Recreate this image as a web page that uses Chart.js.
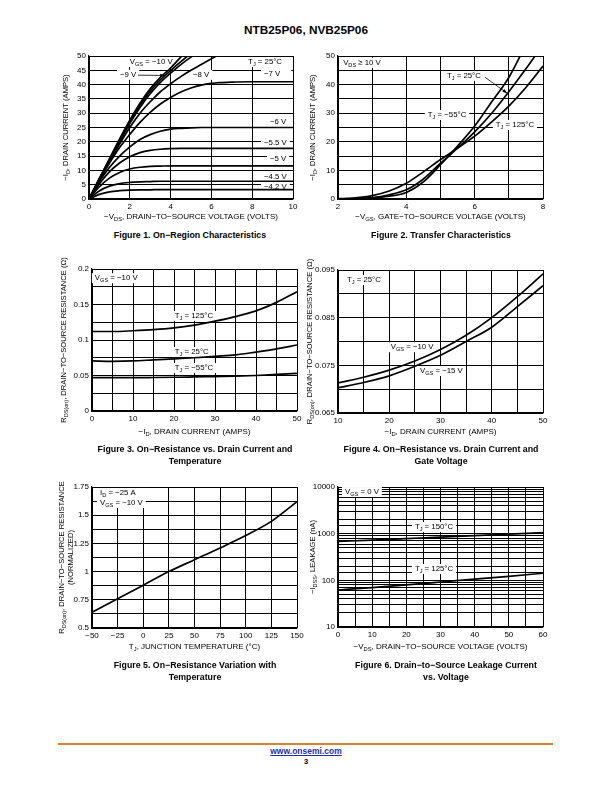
<!DOCTYPE html>
<html>
<head>
<meta charset="utf-8">
<script src="https://cdn.jsdelivr.net/npm/chart.js@4.4.1/dist/chart.umd.min.js"></script>
<style>
  body { margin: 0; background: #fff; }
  #page { position: relative; width: 612px; height: 792px; font-family: "Liberation Sans", Arial, sans-serif; color: #000; }
  canvas { position: absolute; }
  .cap { position: absolute; width: 300px; text-align: center; font-weight: bold; font-size: 8.8px; line-height: 11.5px; }
</style>
</head>
<body>
<div id="page">
  <div class="cap" style="left:156px;top:23px;font-size:11.8px;line-height:14px">NTB25P06, NVB25P06</div>

  <canvas id="fig1"></canvas>
  <canvas id="fig2"></canvas>
  <canvas id="fig3"></canvas>
  <canvas id="fig4"></canvas>
  <canvas id="fig5"></canvas>
  <canvas id="fig6"></canvas>

  <div class="cap" style="left:40px;top:230px">Figure 1. On&#8722;Region Characteristics</div>
  <div class="cap" style="left:291px;top:230px">Figure 2. Transfer Characteristics</div>
  <div class="cap" style="left:45px;top:444px">Figure 3. On&#8722;Resistance vs. Drain Current and<br>Temperature</div>
  <div class="cap" style="left:291px;top:444px">Figure 4. On&#8722;Resistance vs. Drain Current and<br>Gate Voltage</div>
  <div class="cap" style="left:45px;top:660px">Figure 5. On&#8722;Resistance Variation with<br>Temperature</div>
  <div class="cap" style="left:296px;top:660px">Figure 6. Drain&#8722;to&#8722;Source Leakage Current<br>vs. Voltage</div>

  <div style="position:absolute;left:58px;top:743px;width:495px;height:2px;background:#d9822b"></div>
  <div class="cap" style="left:156px;top:746px;font-size:8.5px;color:#1f2fa8;text-decoration:underline">www.onsemi.com</div>
  <div class="cap" style="left:156px;top:756px;font-size:7.5px">3</div>
</div>

<script>
// ---- Figure 1: on-region, -ID vs -VDS for each VGS
const vdsSteps = [0, 0.5, 1, 1.5, 2, 2.5, 3, 3.5, 4, 4.5, 5, 5.5, 6, 6.5, 7, 8, 9, 10];
const vgsCurves = ['−10 V', '−9 V', '−8.5 V', '−8 V', '−7 V', '−6 V', '−5.5 V', '−5 V', '−4.5 V', '−4.2 V'];
const idOnRegion = [
  [0, 7, 14, 21, 27.6, 33.5, 38.5, 42.5, 45.8, 49.6, 53],
  [0, 7, 13.8, 20.5, 27, 32.8, 37.7, 41.7, 44.9, 48, 51],
  [0, 6.9, 13.5, 20, 26.4, 32, 36.8, 40.8, 44, 47, 49.6, 52],
  [0, 6.7, 13, 19.2, 25, 30, 34, 37.5, 40.3, 42.8, 45, 47, 49, 51],
  [0, 6.5, 12.5, 18, 22.6, 26.8, 30.3, 33.2, 35.5, 37.4, 38.8, 39.8, 40.4, 40.7, 40.9, 41, 41, 41],
  [0, 6, 11, 15, 18.2, 20.8, 22.5, 23.7, 24.4, 24.7, 24.9, 25, 25, 25, 25, 25, 25, 25],
  [0, 5.2, 9.5, 12.6, 14.8, 16.2, 17, 17.4, 17.6, 17.7, 17.7, 17.7, 17.7, 17.7, 17.7, 17.7, 17.7, 17.7],
  [0, 4.2, 7.3, 9.3, 10.5, 11.1, 11.4, 11.5, 11.6, 11.6, 11.6, 11.6, 11.6, 11.6, 11.6, 11.6, 11.6, 11.6],
  [0, 2.8, 4.5, 5.4, 5.8, 6, 6.1, 6.2, 6.2, 6.2, 6.2, 6.2, 6.2, 6.2, 6.2, 6.2, 6.2, 6.2],
  [0, 1.6, 2.5, 2.9, 3.1, 3.2, 3.2, 3.3, 3.3, 3.3, 3.3, 3.3, 3.3, 3.3, 3.3, 3.3, 3.3, 3.3]
];

// ---- Figure 2: transfer, -ID vs -VGS
const vgsSteps = [2, 2.5, 3, 3.5, 4, 4.5, 5, 5.5, 6, 6.5, 7, 7.5, 8];
const tjTransfer = ['−55°C', '25°C', '125°C'];
const idTransfer = [
  [0, 0.05, 0.3, 1, 2.3, 6, 12, 18.5, 25.5, 34, 42.5, 54],
  [0.05, 0.15, 0.5, 1.5, 3.2, 7, 12.5, 17.8, 23.5, 30, 37.5, 45.5, 54],
  [0.1, 0.4, 1.2, 2.8, 5.5, 9.5, 13.8, 17.8, 22, 27, 32.5, 39, 46.5]
];

// ---- Figure 3: RDS(on) vs -ID and temperature
const idSteps3 = [0, 5, 10, 15, 20, 25, 30, 35, 40, 45, 50];
const tjRds = ['125°C', '25°C', '−55°C'];
const rdsVsId = [
  [0.112, 0.112, 0.113, 0.1145, 0.117, 0.121, 0.1265, 0.133, 0.141, 0.153, 0.168],
  [0.0705, 0.070, 0.0705, 0.072, 0.0735, 0.075, 0.077, 0.079, 0.083, 0.0875, 0.093],
  [0.047, 0.047, 0.047, 0.0472, 0.0475, 0.048, 0.0485, 0.049, 0.050, 0.0515, 0.053]
];

// ---- Figure 4: RDS(on) vs -ID and gate voltage
const idSteps4 = [10, 15, 20, 25, 30, 35, 40, 45, 50];
const vgsRds = ['−10 V', '−15 V'];
const rdsVsVgs = [
  [0.0713, 0.0725, 0.074, 0.0759, 0.0783, 0.0813, 0.085, 0.0894, 0.0942],
  [0.0703, 0.0714, 0.0728, 0.0748, 0.0771, 0.080, 0.083, 0.0873, 0.0917]
];

// ---- Figure 5: normalized RDS(on) vs TJ
const tjSteps = [-50, -25, 0, 25, 50, 75, 100, 125, 150];
const rdsNorm = [0.64, 0.76, 0.88, 1.0, 1.105, 1.21, 1.32, 1.445, 1.62];

// ---- Figure 6: -IDSS leakage vs -VDS
const vdsSteps6 = [0, 10, 20, 30, 40, 50, 60];
const tjLeak = ['150°C', '125°C'];
const idssLeak = [
  [680, 730, 785, 845, 905, 975, 1050],
  [62, 70, 80, 92, 106, 122, 142]
];

const FONT = '"Liberation Sans", Arial, sans-serif';
const FS = 8;     // ticks and x titles
const YS = 7.6;   // y titles
const NS = 7.8;   // in-plot labels

// text with _{subscript} parts
function parseRich(s) {
  const out = [];
  const re = /_\{([^}]*)\}/g;
  let last = 0, m;
  while ((m = re.exec(s))) {
    if (m.index > last) out.push({ t: s.slice(last, m.index), sub: false });
    out.push({ t: m[1], sub: true });
    last = re.lastIndex;
  }
  if (last < s.length) out.push({ t: s.slice(last), sub: false });
  return out;
}
function richWidth(ctx, s, size) {
  let w = 0;
  parseRich(s).forEach(p => {
    ctx.font = (p.sub ? size * 0.72 : size) + 'px ' + FONT;
    w += ctx.measureText(p.t).width;
  });
  return w;
}
function drawRich(ctx, s, x, y, size, align) {
  const w = richWidth(ctx, s, size);
  let cx = align === 'center' ? x - w / 2 : x;
  ctx.textAlign = 'left';
  ctx.textBaseline = 'middle';
  parseRich(s).forEach(p => {
    ctx.font = (p.sub ? size * 0.72 : size) + 'px ' + FONT;
    ctx.fillText(p.t, cx, p.sub ? y + size * 0.3 : y);
    cx += ctx.measureText(p.t).width;
  });
}

// labels in white boxes, arrows, axis titles
const sheetPlugin = {
  id: 'sheet',
  beforeDatasetsDraw(chart, args, opts) {
    const { ctx, scales } = chart;
    ctx.save();
    (opts.notes || []).forEach(n => {
      const lines = [].concat(n.text);
      const px = scales.x.getPixelForValue(n.x);
      const py = scales.y.getPixelForValue(n.y);
      const lh = 10;
      let w = 0;
      lines.forEach(l => { w = Math.max(w, richWidth(ctx, l, NS)); });
      ctx.fillStyle = '#fff';
      ctx.fillRect(px - 3, py - 5, w + (n.pad || 6), lh * lines.length);
      ctx.fillStyle = '#000';
      lines.forEach((l, i) => drawRich(ctx, l, px, py + i * lh, NS, 'left'));
    });
    ctx.restore();
  },
  afterDatasetsDraw(chart, args, opts) {
    const { ctx, scales } = chart;
    ctx.save();
    ctx.strokeStyle = '#000';
    ctx.fillStyle = '#000';
    ctx.lineWidth = 0.8;
    (opts.arrows || []).forEach(a => {
      const x1 = scales.x.getPixelForValue(a.from[0]), y1 = scales.y.getPixelForValue(a.from[1]);
      const x2 = scales.x.getPixelForValue(a.to[0]), y2 = scales.y.getPixelForValue(a.to[1]);
      const ang = Math.atan2(y2 - y1, x2 - x1);
      ctx.beginPath();
      ctx.moveTo(x1, y1);
      ctx.lineTo(x2, y2);
      ctx.stroke();
      ctx.beginPath();
      ctx.moveTo(x2, y2);
      ctx.lineTo(x2 - 5 * Math.cos(ang - 0.35), y2 - 5 * Math.sin(ang - 0.35));
      ctx.lineTo(x2 - 5 * Math.cos(ang + 0.35), y2 - 5 * Math.sin(ang + 0.35));
      ctx.closePath();
      ctx.fill();
    });
    ctx.restore();
  },
  afterDraw(chart, args, opts) {
    const { ctx, chartArea: a } = chart;
    ctx.save();
    ctx.fillStyle = '#000';
    if (opts.xTitle) drawRich(ctx, opts.xTitle, (a.left + a.right) / 2, a.bottom + opts.xGap, FS, 'center');
    [].concat(opts.yTitle || []).forEach((t, i) => {
      ctx.save();
      ctx.translate(a.left - opts.yGap + i * 8.5, (a.top + a.bottom) / 2);
      ctx.rotate(-Math.PI / 2);
      drawRich(ctx, t, 0, 0, YS, 'center');
      ctx.restore();
    });
    ctx.restore();
  }
};

const isMult = (v, m) => Math.abs(v / m - Math.round(v / m)) < 1e-6;
const fmt = v => String(+v.toFixed(4)).replace('-', '−');

function axis(type, min, max, step, show) {
  return {
    type, min, max,
    ticks: {
      stepSize: step, autoSkip: false, color: '#000', padding: 3,
      font: { family: FONT, size: FS },
      callback: v => (show(v) ? fmt(v) : '')
    },
    grid: { color: '#000', lineWidth: 1, drawTicks: false },
    border: { color: '#000', width: 1.2 }
  };
}

function series(xs, ys) {
  return xs.map((x, i) => ({ x, y: ys[i] })).filter(p => p.y != null);
}
function line(label, data) {
  return {
    label, data, borderColor: '#000', borderWidth: 1.7, pointRadius: 0,
    cubicInterpolationMode: 'monotone', fill: false
  };
}

// box = canvas [left, top, width, height], plot = [left, top, right, bottom], page pixels
function makeChart(id, box, plot, scales, datasets, sheet) {
  const cv = document.getElementById(id);
  cv.style.left = box[0] + 'px';
  cv.style.top = box[1] + 'px';
  cv.width = box[2];
  cv.height = box[3];
  scales.x.afterFit = s => { s.height = box[1] + box[3] - plot[3]; };
  scales.y.afterFit = s => { s.width = plot[0] - box[0]; };
  return new Chart(cv, {
    type: 'line',
    data: { datasets },
    options: {
      responsive: false,
      animation: false,
      layout: { padding: { left: 0, bottom: 0, top: plot[1] - box[1], right: box[0] + box[2] - plot[2] } },
      plugins: { legend: { display: false }, tooltip: { enabled: false }, sheet },
      scales
    },
    plugins: [sheetPlugin]
  });
}

// Figure 1
makeChart('fig1', [50, 40, 258, 189], [89, 56, 293, 199],
  { x: axis('linear', 0, 10, 2, () => true), y: axis('linear', 0, 50, 5, () => true) },
  vgsCurves.map((name, i) => line(name, series(vdsSteps, idOnRegion[i]))),
  {
    xTitle: '−V_{DS}, DRAIN−TO−SOURCE VOLTAGE (VOLTS)', xGap: 18,
    yTitle: '−I_{D}, DRAIN CURRENT (AMPS)', yGap: 23,
    notes: [
      { x: 2.0, y: 47.9, text: 'V_{GS} = −10 V' },
      { x: 7.8, y: 47.9, text: 'T_{J} = 25°C' },
      { x: 1.52, y: 43.4, text: '−9 V' },
      { x: 5.1, y: 43.4, text: '−8 V' },
      { x: 8.58, y: 43.7, text: '−7 V', pad: 14 },
      { x: 8.87, y: 26.9, text: '−6 V' },
      { x: 8.58, y: 19.6, text: '−5.5 V' },
      { x: 8.87, y: 14, text: '−5 V' },
      { x: 8.58, y: 7.7, text: '−4.5 V' },
      { x: 8.58, y: 4.2, text: '−4.2 V' }
    ],
    arrows: [{ from: [2.4, 43.3], to: [3.72, 43.2] }]
  });

// Figure 2
makeChart('fig2', [300, 40, 258, 189], [338, 56, 543, 199],
  { x: axis('linear', 2, 8, 1, v => isMult(v, 2)), y: axis('linear', 0, 50, 5, v => isMult(v, 10)) },
  tjTransfer.map((name, i) => line(name, series(vgsSteps, idTransfer[i]))),
  {
    xTitle: '−V_{GS}, GATE−TO−SOURCE VOLTAGE (VOLTS)', xGap: 18,
    yTitle: '−I_{D}, DRAIN CURRENT (AMPS)', yGap: 25,
    notes: [
      { x: 2.15, y: 47.6, text: 'V_{DS} ≥ 10 V' },
      { x: 5.19, y: 43, text: 'T_{J} = 25°C' },
      { x: 4.63, y: 29.4, text: 'T_{J} = −55°C' },
      { x: 6.62, y: 25.9, text: 'T_{J} = 125°C' }
    ],
    arrows: [{ from: [6.3, 42.6], to: [6.95, 37] }]
  });

// Figure 3
makeChart('fig3', [50, 244, 258, 199], [92, 269, 297, 411],
  { x: axis('linear', 0, 50, 5, v => isMult(v, 10)), y: axis('linear', 0, 0.2, 0.025, v => isMult(v, 0.05)) },
  tjRds.map((name, i) => line(name, series(idSteps3, rdsVsId[i]))),
  {
    xTitle: '−I_{D}, DRAIN CURRENT (AMPS)', xGap: 21,
    yTitle: 'R_{DS(on)}, DRAIN−TO−SOURCE RESISTANCE (Ω)', yGap: 28,
    notes: [
      { x: 0.7, y: 0.187, text: 'V_{GS} = −10 V' },
      { x: 20.2, y: 0.134, text: 'T_{J} = 125°C' },
      { x: 20.2, y: 0.083, text: 'T_{J} = 25°C' },
      { x: 20.2, y: 0.0606, text: 'T_{J} = −55°C' }
    ]
  });

// Figure 4
makeChart('fig4', [300, 244, 258, 199], [338, 270, 543, 413],
  { x: axis('linear', 10, 50, 5, v => isMult(v, 10)), y: axis('linear', 0.065, 0.095, 0.005, v => isMult(v - 0.065, 0.01)) },
  vgsRds.map((name, i) => line(name, series(idSteps4, rdsVsVgs[i]))),
  {
    xTitle: '−I_{D}, DRAIN CURRENT (AMPS)', xGap: 19,
    yTitle: 'R_{DS(on)}, DRAIN−TO−SOURCE RESISTANCE (Ω)', yGap: 28,
    notes: [
      { x: 11.75, y: 0.0929, text: 'T_{J} = 25°C' },
      { x: 20.3, y: 0.0788, text: 'V_{GS} = −10 V' },
      { x: 26, y: 0.0738, text: 'V_{GS} = −15 V' }
    ]
  });

// Figure 5
makeChart('fig5', [50, 466, 258, 195], [92, 487, 297, 628],
  { x: axis('linear', -50, 150, 25, () => true), y: axis('linear', 0.5, 1.75, 0.125, v => isMult(v, 0.25)) },
  [line('R_DS(on) normalized', series(tjSteps, rdsNorm))],
  {
    xTitle: 'T_{J}, JUNCTION TEMPERATURE (°C)', xGap: 19,
    yTitle: ['R_{DS(on)}, DRAIN−TO−SOURCE RESISTANCE', '(NORMALIZED)'], yGap: 30,
    notes: [
      { x: -42.2, y: 1.697, text: ['I_{D} = −25 A', 'V_{GS} = −10 V'] }
    ]
  });

// Figure 6
makeChart('fig6', [300, 466, 258, 195], [338, 487, 543, 627],
  {
    x: axis('linear', 0, 60, 5, v => isMult(v, 10)),
    y: axis('logarithmic', 10, 10000, undefined, v => Math.abs(Math.log10(v) - Math.round(Math.log10(v))) < 1e-9)
  },
  tjLeak.map((name, i) => line(name, series(vdsSteps6, idssLeak[i]))),
  {
    xTitle: '−V_{DS}, DRAIN−TO−SOURCE VOLTAGE (VOLTS)', xGap: 20,
    yTitle: '−I_{DSS}, LEAKAGE (nA)', yGap: 25,
    notes: [
      { x: 2.05, y: 7800, text: 'V_{GS} = 0 V' },
      { x: 22.5, y: 1390, text: 'T_{J} = 150°C' },
      { x: 22.5, y: 175, text: 'T_{J} = 125°C' }
    ]
  });
</script>
</body>
</html>
